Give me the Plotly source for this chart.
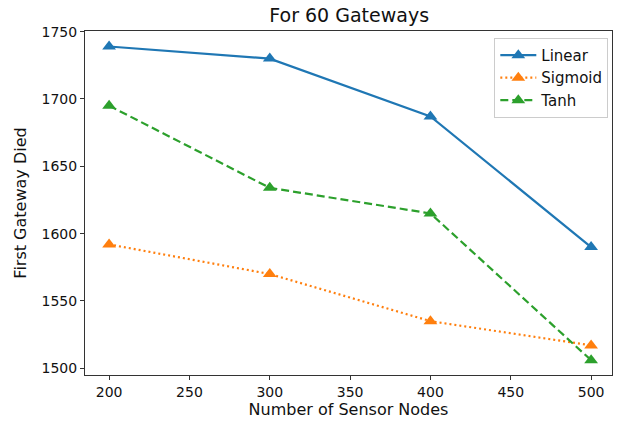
import plotly.graph_objects as go

# Number of sensor nodes on the x axis
nodes = [200, 300, 400, 500]

# First gateway death round for each activation function
linear = [1739, 1730, 1687, 1590]
sigmoid = [1592, 1570, 1535, 1517]
tanh = [1695, 1634, 1615, 1506]

x_ticks = [200, 250, 300, 350, 400, 450, 500]
y_ticks = [1500, 1550, 1600, 1650, 1700, 1750]

series = [
    ("Linear", linear, "#1f77b4", "solid"),
    ("Sigmoid", sigmoid, "#ff7f0e", "2px,3px"),
    ("Tanh", tanh, "#2ca02c", "8px,4px"),
]

fig = go.Figure()
for name, vals, color, dash in series:
    fig.add_trace(go.Scatter(
        x=nodes, y=vals, name=name, mode="lines+markers",
        line=dict(color=color, width=2.2, dash=dash),
        marker=dict(symbol="triangle-up", size=12, color=color),
    ))

font = "DejaVu Sans, sans-serif"
axis_common = dict(
    showline=True, linecolor="#333333", linewidth=1, mirror=True,
    ticks="outside", ticklen=4, tickcolor="#333333", tickwidth=1,
    showgrid=False, zeroline=False,
    tickfont=dict(family=font, size=14, color="#111111"),
)

fig.update_layout(
    width=618, height=427,
    margin=dict(l=85, r=6, t=31, b=52),
    paper_bgcolor="white", plot_bgcolor="white",
    title=dict(text="For 60 Gateways", x=0.565, xanchor="center", y=0.963, yanchor="middle",
               font=dict(family=font, size=19, color="#111111")),
    xaxis=dict(range=[185, 513], tickvals=x_ticks,
               title=dict(text="Number of Sensor Nodes", font=dict(family=font, size=16, color="#111111"), standoff=5),
               **axis_common),
    yaxis=dict(range=[1495, 1750.5], tickvals=y_ticks,
               title=dict(text="First Gateway Died", font=dict(family=font, size=16, color="#111111"), standoff=10),
               **axis_common),
    legend=dict(x=0.993, y=0.98, xanchor="right", yanchor="top",
                bordercolor="#cccccc", borderwidth=1, bgcolor="rgba(255,255,255,0.8)",
                font=dict(family=font, size=15, color="#111111"),
                itemwidth=36, tracegroupgap=0),
    showlegend=True,
)

fig.write_html("out.html")
